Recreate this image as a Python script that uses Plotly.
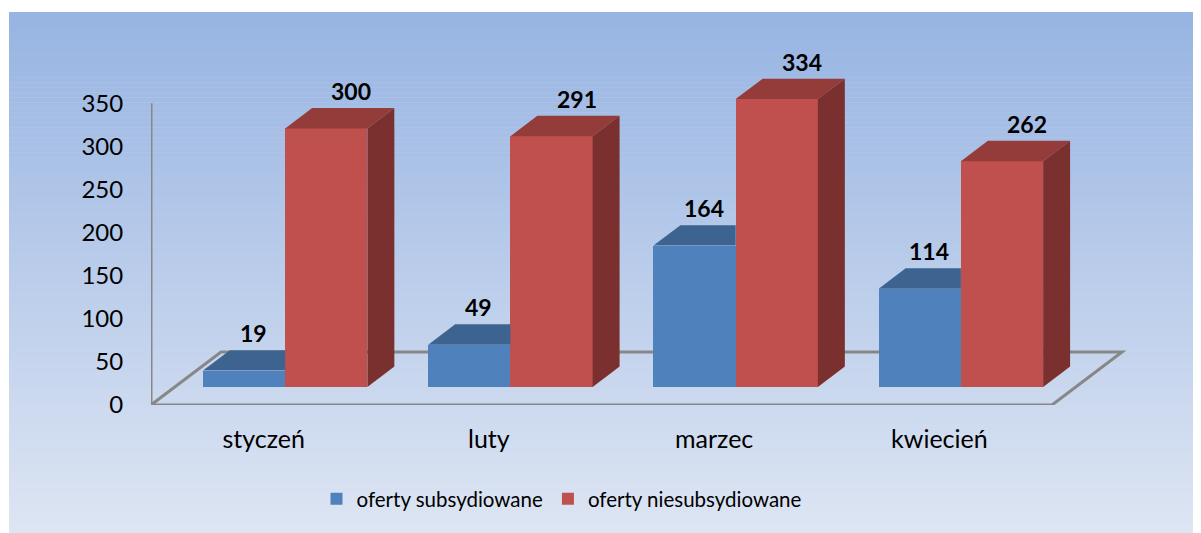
import plotly.graph_objects as go

# ---------------- data ----------------
categories = ["styczeń", "luty", "marzec", "kwiecień"]
series_names = ["oferty subsydiowane", "oferty niesubsydiowane"]
subsydiowane = [19, 49, 164, 114]
niesubsydiowane = [300, 291, 334, 262]
y_ticks = [0, 50, 100, 150, 200, 250, 300, 350]

# ---------------- styling / geometry ----------------
FONT = "Lato, 'Open Sans', sans-serif"
OFF = 8                 # page body margin compensation
W, H = 1201 - OFF, 533 - OFF
PX_X = 225.25           # pixels per category
PX_Y = 0.862            # pixels per value unit
DEPTH_X = 70 / PX_X     # oblique depth shift (x units) for full floor depth
DEPTH_Y = 53 / PX_Y     # oblique depth shift (value units)
Z_FRONT, Z_BACK = 0.34, 0.725
BAR_OFFSETS = [(-0.375, -0.01), (-0.01, 0.355)]
LABEL_DX_PX = [9, 25]   # label shift from bar front centre, pixels
COL_FRONT = ["#4F81BD", "#C0504D"]
COL_TOP = ["#3D6491", "#943C39"]
COL_SIDE = ["#355780", "#7A302F"]
AXIS_GRAY = "#878787"

# plot area in figure pixels
L_PX, R_PX, T_PX, B_PX = 151 - OFF, 1190 - OFF, 12 - OFF, 405 - OFF
x_range = [-0.5, -0.5 + (R_PX - L_PX) / PX_X]
y_range = [0, (B_PX - T_PX) / PX_Y]

series = [subsydiowane, niesubsydiowane]


def proj(x, v, z):
    return x + z * DEPTH_X, v + z * DEPTH_Y


def px_to_paper_x(px):
    return (px - L_PX) / (R_PX - L_PX)


def px_to_paper_y(py):
    return (B_PX - py) / (B_PX - T_PX)


fig = go.Figure()

# background gradient (paper coords) and floor as shapes below traces
shapes = []
top_c = (151, 180, 226)
bot_c = (221, 229, 243)
bg_top = 12 - OFF
bg_left = 9 - OFF
n = 104
step = (H - bg_top) / n
for k in range(n):
    t = k / (n - 1)
    c = tuple(round(top_c[j] + (bot_c[j] - top_c[j]) * t) for j in range(3))
    ya = bg_top + k * step
    yb = min(ya + step + 0.6, H)
    shapes.append(dict(type="rect", xref="paper", yref="paper", layer="below",
                       x0=px_to_paper_x(bg_left), x1=px_to_paper_x(W),
                       y0=px_to_paper_y(yb), y1=px_to_paper_y(ya),
                       fillcolor="rgb(%d,%d,%d)" % c, line=dict(width=0)))

# floor outline
fl = [proj(x_range[0], 0, 0), proj(len(categories) - 0.5, 0, 0),
      proj(len(categories) - 0.5, 0, 1), proj(x_range[0], 0, 1)]
path = "M %f,%f L %f,%f L %f,%f L %f,%f Z" % (fl[0] + fl[1] + fl[2] + fl[3])
shapes.append(dict(type="path", xref="x", yref="y", layer="below", path=path,
                   line=dict(color=AXIS_GRAY, width=3)))
# vertical value axis line
shapes.append(dict(type="line", xref="x", yref="y", layer="below",
                   x0=x_range[0], x1=x_range[0], y0=0, y1=y_ticks[-1],
                   line=dict(color=AXIS_GRAY, width=3)))

# front faces as real bars
for s, vals in enumerate(series):
    o0, o1 = BAR_OFFSETS[s]
    xs = [i + (o0 + o1) / 2 + Z_FRONT * DEPTH_X for i in range(len(categories))]
    fig.add_trace(go.Bar(
        x=xs, y=vals, base=[Z_FRONT * DEPTH_Y] * len(vals), width=o1 - o0,
        name=series_names[s], marker=dict(color=COL_FRONT[s], line=dict(width=0)),
        customdata=categories, hovertemplate="%{customdata}: %{y}<extra></extra>"))

# 3D top / side faces
for i in range(len(categories)):
    for s, vals in enumerate(series):
        v = vals[i]
        o0, o1 = BAR_OFFSETS[s]
        x0, x1 = i + o0, i + o1
        a = proj(x0, v, Z_FRONT)
        b = proj(x1, v, Z_FRONT)
        c = proj(x1, v, Z_BACK)
        d = proj(x0, v, Z_BACK)
        hidden = False
        if s + 1 < len(series):
            nv = series[s + 1][i]
            hidden = proj(0, nv, Z_FRONT)[1] >= proj(0, v, Z_BACK)[1]
        top = [a, b, (b[0], d[1]), d] if hidden else [a, b, c, d]
        fig.add_trace(go.Scatter(
            x=[p[0] for p in top] + [top[0][0]], y=[p[1] for p in top] + [top[0][1]],
            mode="lines", fill="toself", fillcolor=COL_TOP[s], line=dict(width=0),
            hoverinfo="skip", showlegend=False))
        if not hidden:
            side = [proj(x1, 0, Z_FRONT), proj(x1, 0, Z_BACK),
                    proj(x1, v, Z_BACK), proj(x1, v, Z_FRONT)]
            fig.add_trace(go.Scatter(
                x=[p[0] for p in side] + [side[0][0]], y=[p[1] for p in side] + [side[0][1]],
                mode="lines", fill="toself", fillcolor=COL_SIDE[s], line=dict(width=0),
                hoverinfo="skip", showlegend=False))

# data labels
annotations = []
for s, vals in enumerate(series):
    o0, o1 = BAR_OFFSETS[s]
    for i, v in enumerate(vals):
        fx, _ = proj(i + (o0 + o1) / 2, v, Z_FRONT)
        _, ly = proj(0, v, Z_BACK)
        annotations.append(dict(x=fx + LABEL_DX_PX[s] / PX_X, y=ly, xref="x", yref="y",
                                text="<b>%d</b>" % v,
                                showarrow=False, yanchor="bottom", xanchor="center", yshift=1,
                                font=dict(family=FONT, size=23, color="black")))

fig.update_layout(
    width=W, height=H,
    margin=dict(l=L_PX, r=W - R_PX, t=T_PX, b=H - B_PX, autoexpand=False),
    paper_bgcolor="white", plot_bgcolor="rgba(0,0,0,0)",
    barmode="overlay", bargap=0,
    shapes=shapes, annotations=annotations,
    font=dict(family=FONT, size=23, color="black"),
    xaxis=dict(range=x_range, tickvals=list(range(len(categories))), ticktext=categories,
               showgrid=False, zeroline=False, showline=False,
               ticks="outside", ticklen=12, tickcolor="rgba(0,0,0,0)",
               tickfont=dict(family=FONT, size=25)),
    yaxis=dict(range=y_range, tickvals=y_ticks, showgrid=False, zeroline=False, showline=False,
               ticks="outside", ticklen=22, tickcolor="rgba(0,0,0,0)",
               tickfont=dict(family=FONT, size=24)),
    legend=dict(orientation="h", x=px_to_paper_x(554), xanchor="center",
                y=px_to_paper_y(499 - OFF), yanchor="middle",
                font=dict(family=FONT, size=20.5), bgcolor="rgba(0,0,0,0)",
                itemwidth=30, traceorder="normal"),
    showlegend=True,
)

fig.write_html("out.html")
